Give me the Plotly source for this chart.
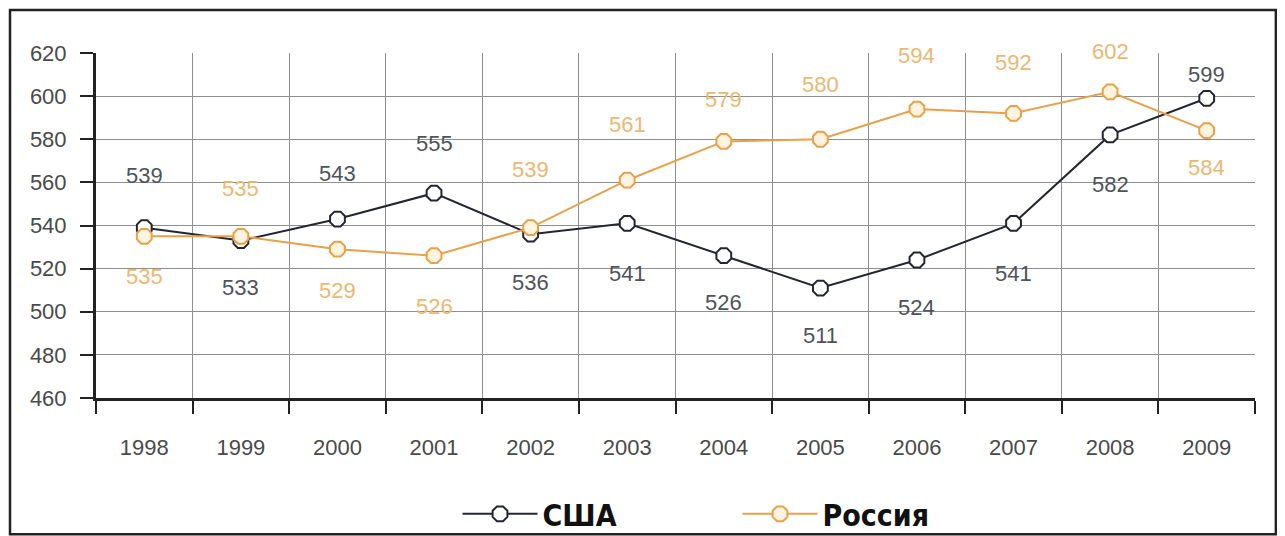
import plotly.graph_objects as go

years = ["1998", "1999", "2000", "2001", "2002", "2003", "2004", "2005", "2006", "2007", "2008", "2009"]
usa = [539, 533, 543, 555, 536, 541, 526, 511, 524, 541, 582, 599]
russia = [535, 535, 529, 526, 539, 561, 579, 580, 594, 592, 602, 584]
y_ticks = [460, 480, 500, 520, 540, 560, 580, 600, 620]

# label offsets (px) – layout only
usa_label_shift = [52, -47, 46, 50, -48, -50, -47, -47, -47, -50, -50, 24]
rus_label_shift = [-40, 48, -41, -51, 58, 56, 42, 55, 54, 51, 40, -37]

USA_LINE = "#23262e"
RUS_LINE = "#e9a04a"
USA_TEXT = "#50535a"
RUS_TEXT = "#ebb873"
TICK_FONT = dict(family="Liberation Sans, Arial", size=22, color="#4a4a4a")

fig = go.Figure()
fig.add_trace(go.Scatter(
    x=years, y=usa, name="США", mode="lines+markers",
    line=dict(color=USA_LINE, width=2),
    marker=dict(symbol="octagon", size=16, color="white", line=dict(color=USA_LINE, width=2)),
))
fig.add_trace(go.Scatter(
    x=years, y=russia, name="Россия", mode="lines+markers",
    line=dict(color=RUS_LINE, width=2),
    marker=dict(symbol="octagon", size=16, color="#fff4e0", line=dict(color=RUS_LINE, width=2)),
))

for i, (v, s) in enumerate(zip(usa, usa_label_shift)):
    fig.add_annotation(x=i, y=v, xref="x", yref="y", text=str(v), showarrow=False, yshift=s,
                       font=dict(family="Liberation Sans, Arial", size=22, color=USA_TEXT))
for i, (v, s) in enumerate(zip(russia, rus_label_shift)):
    fig.add_annotation(x=i, y=v, xref="x", yref="y", text=str(v), showarrow=False, yshift=s,
                       font=dict(family="Liberation Sans, Arial", size=22, color=RUS_TEXT))

# outer frame
fig.add_shape(type="rect", xref="paper", yref="paper",
              x0=-0.0742, x1=1.018, y0=-0.395, y1=1.125,
              line=dict(color="#222", width=2.5), fillcolor="rgba(0,0,0,0)", layer="below")

fig.update_layout(
    width=1277, height=528,
    margin=dict(l=88, r=30, t=45, b=138),
    paper_bgcolor="white", plot_bgcolor="white",
    font=dict(family="Liberation Sans, Arial", color="#444"),
    showlegend=True,
    legend=dict(orientation="h", xref="container", yref="container",
                x=0.352, xanchor="left", y=0.042, yanchor="middle",
                bgcolor="rgba(0,0,0,0)",
                font=dict(family="DejaVu Sans Condensed, DejaVu Sans", size=30, color="#111", weight="bold"),
                itemwidth=75, entrywidthmode="pixels", entrywidth=190),
    xaxis=dict(type="category", tickson="boundaries", showgrid=True, gridcolor="#8f8f8f", gridwidth=1,
               ticks="outside", ticklen=13, tickcolor="#222", tickwidth=2,
               showline=True, linecolor="#222", linewidth=3,
               ticklabelstandoff=28, tickfont=TICK_FONT,
               range=[-0.5, 11.5]),
    yaxis=dict(range=[460, 620], tickvals=y_ticks, showgrid=True, gridcolor="#8f8f8f", gridwidth=1,
               ticks="outside", ticklen=13, tickcolor="#222", tickwidth=2,
               showline=True, linecolor="#222", linewidth=3, zeroline=False,
               tickfont=TICK_FONT, ticklabelstandoff=9),
)

fig.write_html("out.html")
